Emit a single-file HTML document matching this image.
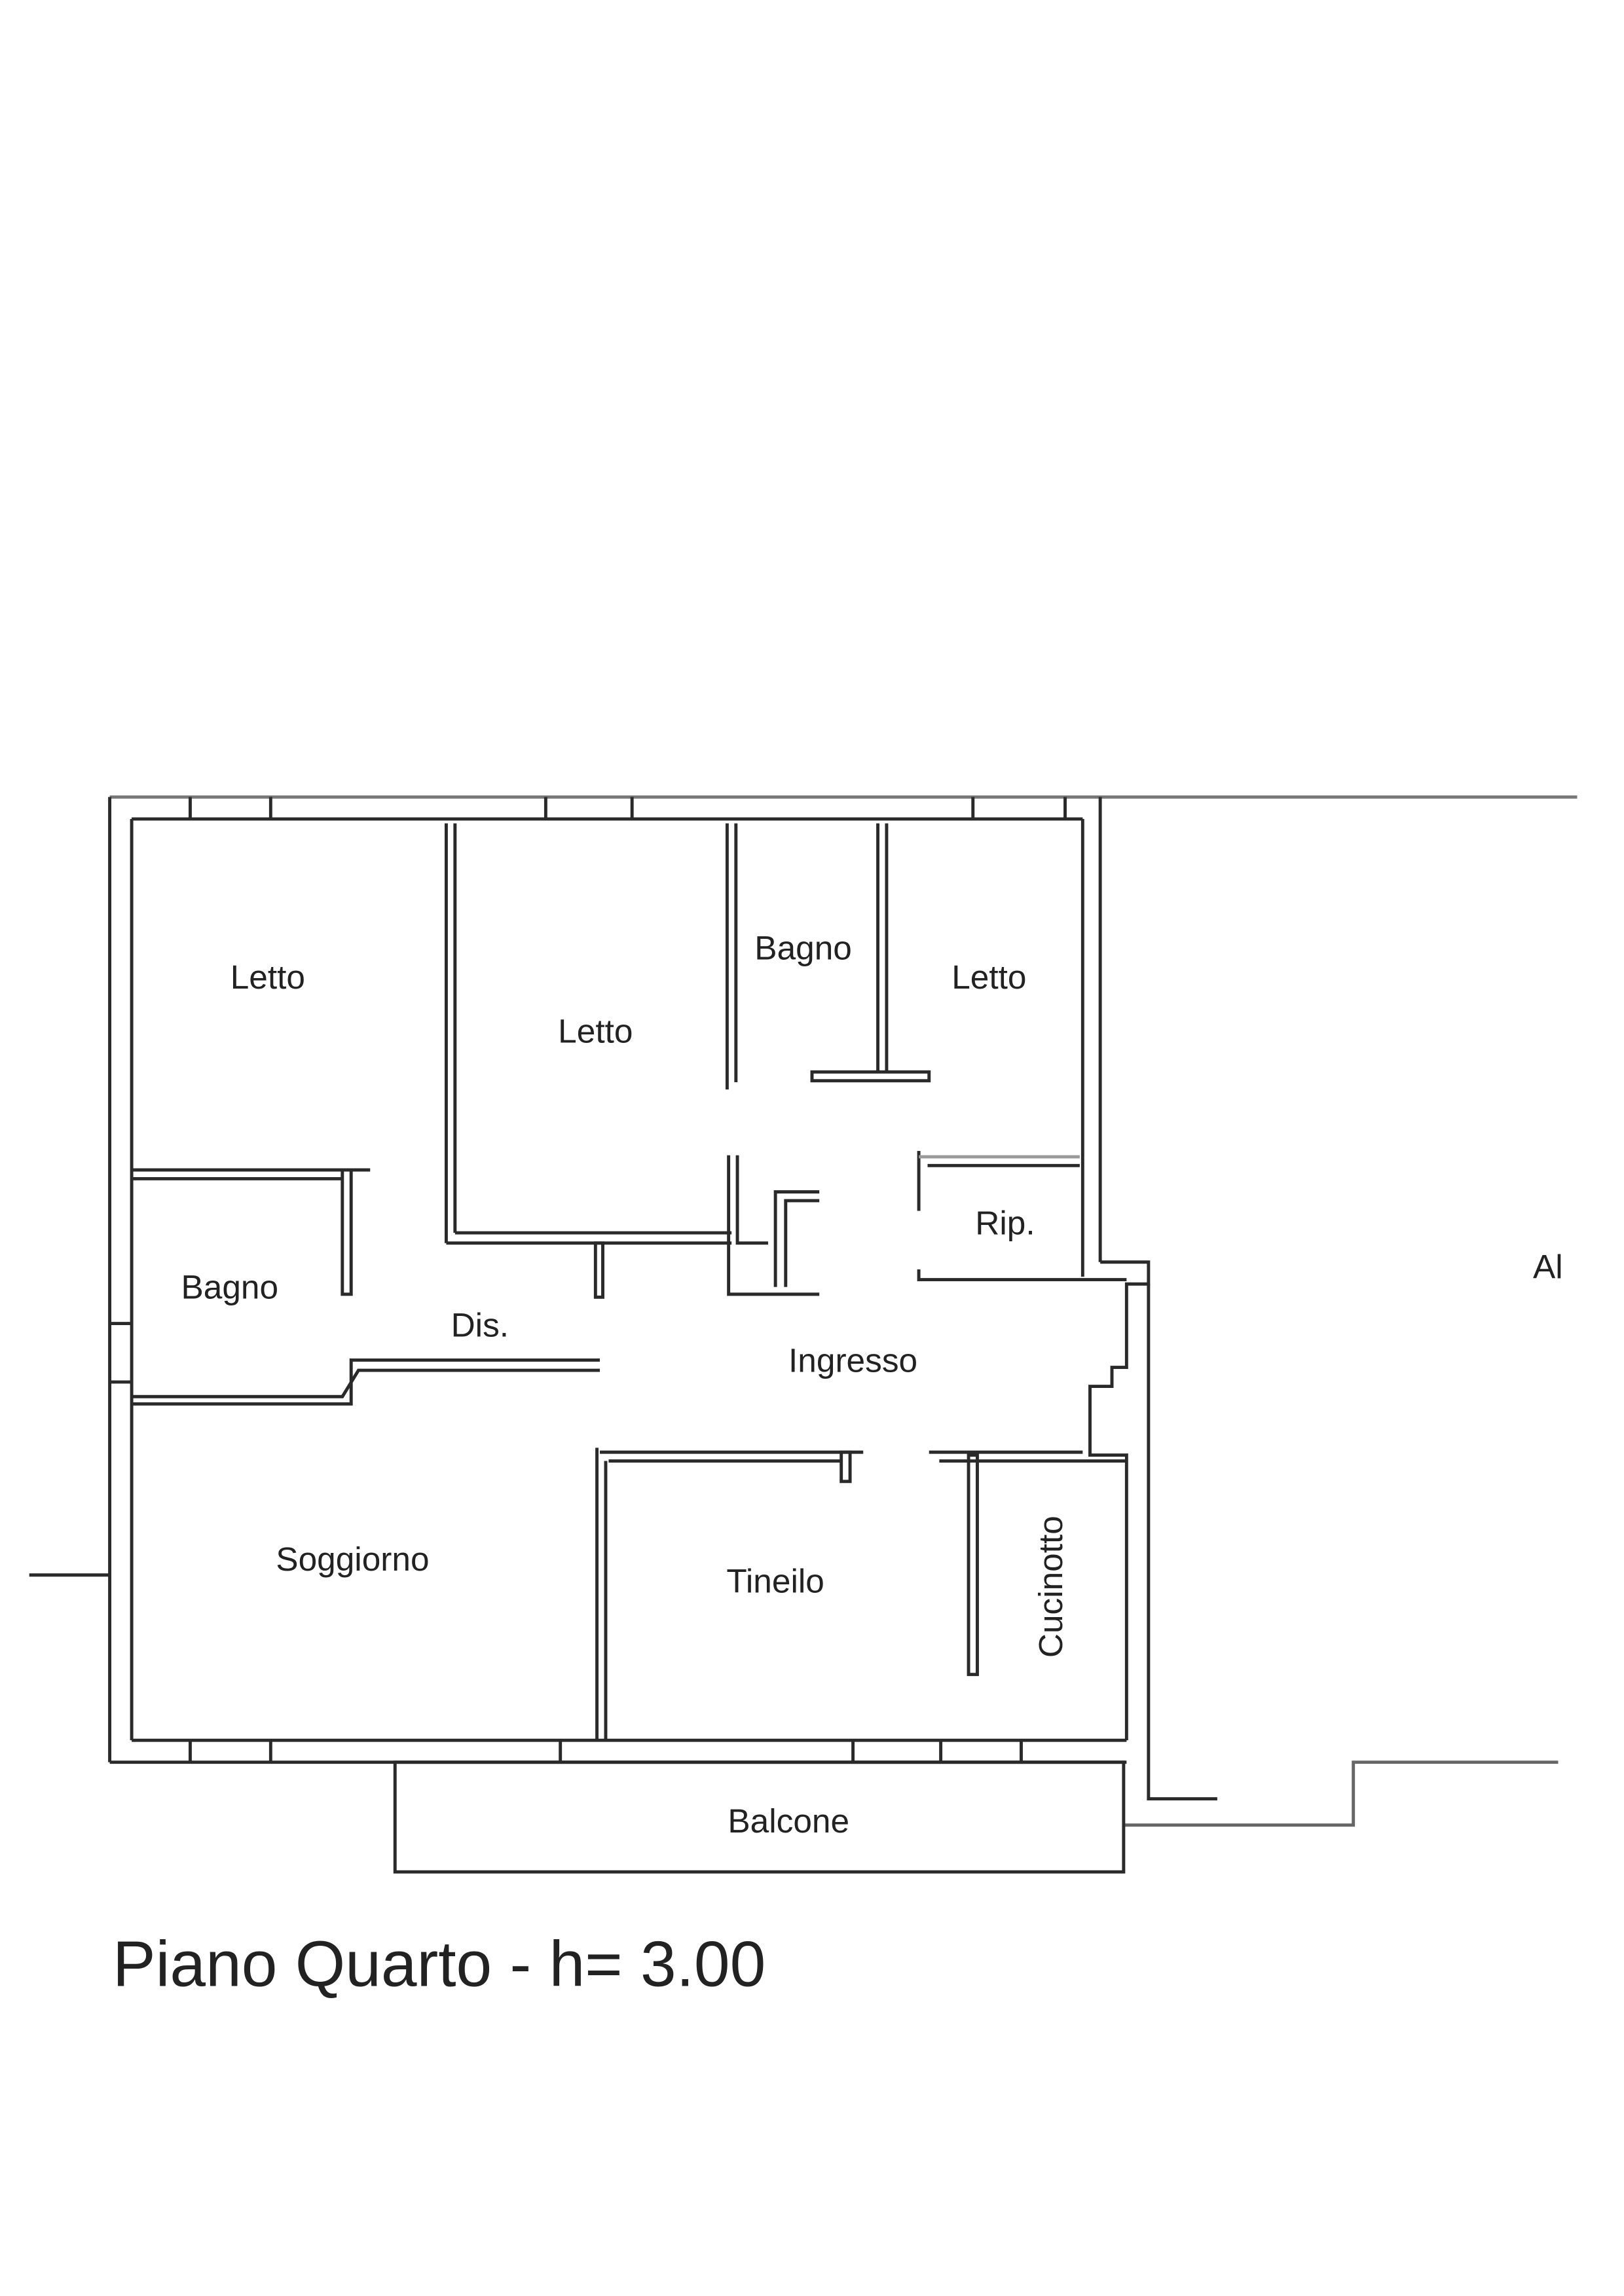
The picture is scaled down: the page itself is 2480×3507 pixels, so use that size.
<!DOCTYPE html>
<html><head><meta charset="utf-8"><style>
html,body{margin:0;padding:0;background:#fff}
svg{display:block}
text{font-family:"Liberation Sans",sans-serif;fill:#222}
</style></head><body>
<svg width="2480" height="3507" viewBox="0 0 1110 1570" preserveAspectRatio="none" xmlns="http://www.w3.org/2000/svg">
<g fill="none" stroke="#2a2a2a" stroke-width="2.2">
<line x1="75" y1="545" x2="1078" y2="545" stroke="#777"/>
<line x1="90" y1="560" x2="740" y2="560"/>
<line x1="130" y1="545" x2="130" y2="560"/><line x1="185" y1="545" x2="185" y2="560"/>
<line x1="373" y1="545" x2="373" y2="560"/><line x1="432" y1="545" x2="432" y2="560"/>
<line x1="665" y1="545" x2="665" y2="560"/><line x1="728" y1="545" x2="728" y2="560"/>
<line x1="75" y1="545" x2="75" y2="1205"/>
<line x1="90" y1="560" x2="90" y2="1190"/>
<line x1="75" y1="905" x2="90" y2="905"/><line x1="75" y1="945" x2="90" y2="945"/>
<line x1="20" y1="1077" x2="75" y2="1077"/>
<line x1="75" y1="1205" x2="770" y2="1205"/>
<line x1="90" y1="1190" x2="770" y2="1190"/>
<line x1="130" y1="1190" x2="130" y2="1205"/><line x1="185" y1="1190" x2="185" y2="1205"/>
<line x1="383" y1="1190" x2="383" y2="1205"/><line x1="583" y1="1190" x2="583" y2="1205"/>
<line x1="643" y1="1190" x2="643" y2="1205"/><line x1="698" y1="1190" x2="698" y2="1205"/>
<line x1="740" y1="560" x2="740" y2="873"/>
<line x1="752" y1="545" x2="752" y2="863"/>
<polyline points="752,863 785,863 785,878 770,878 770,935 760,935 760,948 745,948 745,995 770,995 770,1190"/>
<polyline points="785,878 785,1230 832,1230"/>
<polyline points="768,1248 925,1248 925,1205 1065,1205" stroke="#666"/>
<rect x="270" y="1205" width="498" height="75"/>
<line x1="305" y1="563" x2="305" y2="850"/><line x1="311" y1="563" x2="311" y2="843"/>
<line x1="305" y1="850" x2="500" y2="850"/><line x1="311" y1="843" x2="500" y2="843"/>
<rect x="407" y="850" width="5" height="37"/>
<line x1="497" y1="563" x2="497" y2="745"/><line x1="503" y1="563" x2="503" y2="740"/>
<line x1="600" y1="563" x2="600" y2="733"/><line x1="606" y1="563" x2="606" y2="733"/>
<rect x="555" y="733" width="80" height="6"/>
<line x1="90" y1="800" x2="253" y2="800"/><line x1="90" y1="806" x2="234" y2="806"/>
<rect x="234" y="800" width="6" height="85"/>
<polyline points="90,960 240,960 240,930 410,930"/><polyline points="90,955 234,955 245,937 410,937"/>
<polyline points="498,790 498,885 560,885"/><polyline points="504,790 504,850 525,850"/>
<polyline points="530,880 530,815 560,815"/><polyline points="537,880 537,821 560,821"/>
<polyline points="628,787 628,828"/><polyline points="634,797 738,797"/><polyline points="628,791 738,791" stroke="#999"/>
<polyline points="628,868 628,875 740,875 770,875"/>
<polyline points="410,993 590,993"/><polyline points="416,999 575,999"/>
<line x1="408" y1="990" x2="408" y2="1190"/><line x1="414" y1="999" x2="414" y2="1190"/>
<rect x="575" y="993" width="6" height="20"/>
<polyline points="635,993 740,993"/><polyline points="642,999 770,999"/>
<rect x="662" y="995" width="6" height="150"/>
</g>
<text x="183" y="676" font-size="23" text-anchor="middle">Letto</text>
<text x="407" y="713" font-size="23" text-anchor="middle">Letto</text>
<text x="549" y="656" font-size="23" text-anchor="middle">Bagno</text>
<text x="676" y="676" font-size="23" text-anchor="middle">Letto</text>
<text x="687" y="844" font-size="23" text-anchor="middle">Rip.</text>
<text x="157" y="888" font-size="23" text-anchor="middle">Bagno</text>
<text x="328" y="914" font-size="23" text-anchor="middle">Dis.</text>
<text x="583" y="938" font-size="23" text-anchor="middle">Ingresso</text>
<text x="241" y="1074" font-size="23" text-anchor="middle">Soggiorno</text>
<text x="530" y="1089" font-size="23" text-anchor="middle">Tineilo</text>
<text x="726" y="1085" font-size="23" text-anchor="middle" transform="rotate(-90 726 1085)">Cucinotto</text>
<text x="539" y="1253" font-size="23" text-anchor="middle">Balcone</text>
<text x="1058" y="874" font-size="23" text-anchor="middle">Al</text>
<text x="77" y="1358" font-size="44">Piano Quarto - h= 3.00</text>
</svg>
</body></html>
